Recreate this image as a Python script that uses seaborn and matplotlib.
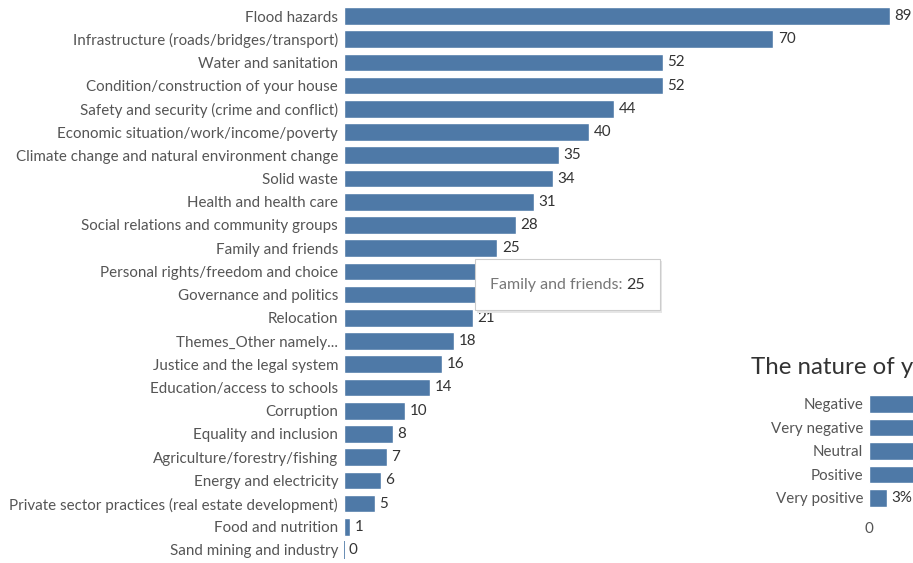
import matplotlib
matplotlib.use("Agg")
import matplotlib.pyplot as plt
import seaborn as sns
import pandas as pd
from matplotlib.patches import Rectangle

categories = [
    "Flood hazards",
    "Infrastructure (roads/bridges/transport)",
    "Water and sanitation",
    "Condition/construction of your house",
    "Safety and security (crime and conflict)",
    "Economic situation/work/income/poverty",
    "Climate change and natural environment change",
    "Solid waste",
    "Health and health care",
    "Social relations and community groups",
    "Family and friends",
    "Personal rights/freedom and choice",
    "Governance and politics",
    "Relocation",
    "Themes_Other namely...",
    "Justice and the legal system",
    "Education/access to schools",
    "Corruption",
    "Equality and inclusion",
    "Agriculture/forestry/fishing",
    "Energy and electricity",
    "Private sector practices (real estate development)",
    "Food and nutrition",
    "Sand mining and industry",
]
values = [89, 70, 52, 52, 44, 40, 35, 34, 31, 28, 25, 24, 23, 21, 18, 16, 14, 10, 8, 7, 6, 5, 1, 0]
# value labels hidden under the tooltip in the reference
hidden_labels = ["Personal rights/freedom and choice", "Governance and politics"]

nature_title = "The nature of y"
nature_categories = ["Negative", "Very negative", "Neutral", "Positive", "Very positive"]
nature_values = [42, 28, 16, 11, 3]
nature_visible_labels = ["Very positive"]

tooltip_label = "Family and friends: "
tooltip_value = "25"

BLUE = "#4e79a7"
LABEL = "#555555"
VAL = "#333333"
FS = 10.9

sns.set_theme(style="white")
plt.rcParams["font.family"] = ["Lato", "DejaVu Sans"]

W, H = 913, 563
fig = plt.figure(figsize=(W / 100, H / 100), dpi=100)
fig.patch.set_facecolor("white")

def fx(px):
    return px / W

def fy(py):
    return 1 - py / H

# ---- main chart ----
n = len(categories)
step = (550 - 16) / (n - 1)
top_px = 16 - step / 2
bot_px = 550 + step / 2
ax = fig.add_axes([fx(344), fy(bot_px), fx(890) - fx(344), (bot_px - top_px) / H])
df = pd.DataFrame({"cat": categories, "val": values})
sns.barplot(data=df, y="cat", x="val", orient="h", color=BLUE, saturation=1,
            width=0.76, ax=ax)
ax.set_xlim(0, 89)
ax.set_ylim(n - 0.5, -0.5)
for s in ax.spines.values():
    s.set_visible(False)
ax.set_xlabel("")
ax.set_ylabel("")
ax.set_xticks([])
ax.tick_params(axis="y", length=0, pad=4.3, labelsize=FS, labelcolor=LABEL)
ax.set_yticks(range(n))
ax.set_yticklabels(categories)
for i, (c, v) in enumerate(zip(categories, values)):
    if v == 0:
        ax.plot([0, 0], [i - 0.38, i + 0.38], color=BLUE, lw=1.2, solid_capstyle="butt")
    if c in hidden_labels:
        continue
    ax.annotate(str(v), (v, i), xytext=(3.2, 0), textcoords="offset points",
                va="center", ha="left", fontsize=FS, color=VAL, annotation_clip=False)

# ---- second chart (partially visible at the right edge) ----
m = len(nature_categories)
step2 = (498 - 404) / (m - 1)
t2 = 404 - step2 / 2
b2 = 498 + step2 / 2
ax2 = fig.add_axes([fx(869), fy(b2), 300 / W, (b2 - t2) / H])
df2 = pd.DataFrame({"cat": nature_categories, "val": nature_values})
sns.barplot(data=df2, y="cat", x="val", orient="h", color=BLUE, saturation=1,
            width=0.76, ax=ax2)
ax2.set_xlim(0, 50)
ax2.set_ylim(m - 0.5, -0.5)
for s in ax2.spines.values():
    s.set_visible(False)
ax2.set_xlabel("")
ax2.set_ylabel("")
ax2.set_xticks([0])
ax2.set_xticklabels(["0"])
ax2.tick_params(axis="x", length=4, width=0.6, color="#dddddd", pad=5,
                labelsize=FS, labelcolor=LABEL)
ax2.tick_params(axis="y", length=0, pad=4.3, labelsize=FS, labelcolor=LABEL)
for i, (c, v) in enumerate(zip(nature_categories, nature_values)):
    if c not in nature_visible_labels:
        continue
    ax2.annotate(f"{v}%", (v, i), xytext=(3, 0), textcoords="offset points",
                 va="center", ha="left", fontsize=FS, color=VAL, annotation_clip=False)
fig.text(fx(751), fy(367), nature_title, fontsize=17.3,
         color="#333333", ha="left", va="center")

# ---- tooltip ----
fig.add_artist(Rectangle((fx(477), fy(313)), fx(662) - fx(477), (313 - 261) / H,
                         transform=fig.transFigure, facecolor="#e6e6e6",
                         edgecolor="none", zorder=9))
fig.add_artist(Rectangle((fx(475), fy(310)), fx(660) - fx(475), (310 - 259) / H,
                         transform=fig.transFigure, facecolor="white",
                         edgecolor="#cccccc", lw=0.8, zorder=10))
tt1 = fig.text(fx(490), fy(285), tooltip_label, fontsize=11.5, color="#777777",
               ha="left", va="center", zorder=11)
fig.canvas.draw()
bb = tt1.get_window_extent()
fig.text(bb.x1 / W, fy(285), tooltip_value, fontsize=11.5, color="#333333",
         ha="left", va="center", zorder=11)

fig.savefig("out.png", dpi=100, facecolor="white")
